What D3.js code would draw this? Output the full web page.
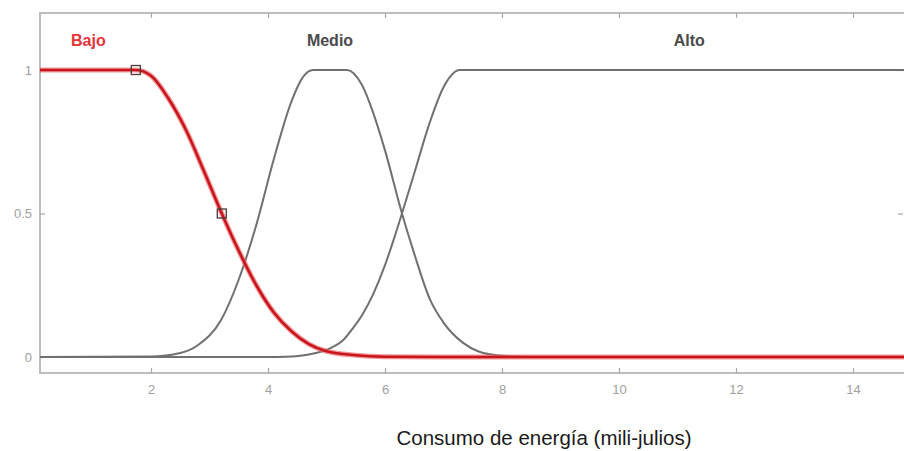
<!DOCTYPE html>
<html><head><meta charset="utf-8">
<script src="https://cdn.jsdelivr.net/npm/d3@7"></script>
<style>body{margin:0;background:#fff}svg{display:block}</style>
</head><body>
<svg id="c" width="904" height="451"></svg>
<script>
// ---- data ----
const xTicks = [2, 4, 6, 8, 10, 12, 14];
const yTicks = [0, 0.5, 1];
const yTickLabels = ["0", "0.5", "1"];
const mfNames = ["Bajo", "Medio", "Alto"];
const mfLabelX = [0.93, 5.06, 11.2];
const bajoX = [0.1, 1.74, 2.0, 2.3, 2.6, 2.9, 3.21, 3.5, 3.8, 4.1, 4.4, 4.7, 5.0, 5.5, 6.0, 7.0, 15];
const bajoY = [1, 1, 0.98, 0.9, 0.79, 0.65, 0.5, 0.37, 0.25, 0.155, 0.09, 0.045, 0.02, 0.006, 0.001, 0, 0];
const medioX = [0.1, 2.0, 2.5, 2.8, 3.2, 3.5, 3.8, 4.1, 4.4, 4.6, 4.77, 5.35, 5.6, 5.8, 6.0, 6.29, 6.5, 6.77, 7.0, 7.33, 7.6, 8.0, 8.5, 15];
const medioY = [0, 0.002, 0.014, 0.041, 0.13, 0.27, 0.46, 0.69, 0.89, 0.976, 1, 1, 0.95, 0.85, 0.72, 0.5, 0.36, 0.2, 0.12, 0.05, 0.019, 0.004, 0, 0];
const altoX = [0.1, 4.0, 4.3, 4.7, 5.06, 5.3, 5.45, 5.62, 5.8, 6.0, 6.15, 6.29, 6.5, 6.77, 7.0, 7.28, 15];
const altoY = [0, 0, 0.001, 0.009, 0.03, 0.062, 0.1, 0.15, 0.22, 0.32, 0.41, 0.5, 0.64, 0.82, 0.94, 1, 1];
const markerX = [1.74, 3.21];
const markerY = [1, 0.5];
const xLabel = "Consumo de energía (mili-julios)";

// ---- drawing ----
const svg = d3.select("#c");
const L = 40, T = 13, R = 907, B = 373;
const x = d3.scaleLinear().domain([0, 15]).range([34, 34 + 58.5 * 15]);
const y = d3.scaleLinear().domain([0, 1]).range([357, 70]);
const FONT = "Liberation Sans, Arial, sans-serif";

svg.append("rect").attr("width", 904).attr("height", 451).attr("fill", "#fff");

svg.append("defs").append("clipPath").attr("id", "clip")
  .append("rect").attr("x", L).attr("y", T).attr("width", R - L).attr("height", B - T);

// frame
svg.append("rect").attr("x", L).attr("y", T).attr("width", R - L).attr("height", B - T)
  .attr("fill", "none").attr("stroke", "#bdbdbd").attr("stroke-width", 2);

const tickStyle = g => {
  g.select(".domain").remove();
  g.selectAll(".tick line").attr("stroke", "#a8a8a8").attr("stroke-width", 1.2);
  g.selectAll(".tick text").attr("fill", "#a0a0a0").attr("font-family", FONT).attr("font-size", 13);
};
svg.append("g").attr("transform", `translate(0,${B})`)
  .call(d3.axisBottom(x).tickValues(xTicks).tickSize(-5).tickPadding(12).tickFormat(d3.format("d")))
  .call(tickStyle);
svg.append("g").attr("transform", `translate(0,${T})`)
  .call(d3.axisTop(x).tickValues(xTicks).tickSize(-5).tickFormat(""))
  .call(tickStyle);
svg.append("g").attr("transform", `translate(${L},0)`)
  .call(d3.axisLeft(y).tickValues(yTicks).tickSize(-5).tickPadding(8).tickFormat((d, i) => yTickLabels[i]))
  .call(tickStyle);
svg.append("g").attr("transform", `translate(${903},0)`)
  .call(d3.axisRight(y).tickValues(yTicks).tickSize(-5).tickFormat(""))
  .call(tickStyle);

const line = d3.line().x(d => x(d[0])).y(d => y(d[1])).curve(d3.curveMonotoneX);
const plot = svg.append("g").attr("clip-path", "url(#clip)");

const grayCol = "#707070";
plot.append("path").datum(d3.zip(medioX, medioY)).attr("d", line)
  .attr("fill", "none").attr("stroke", grayCol).attr("stroke-width", 2);
plot.append("path").datum(d3.zip(altoX, altoY)).attr("d", line)
  .attr("fill", "none").attr("stroke", grayCol).attr("stroke-width", 2);

// red halo + core
plot.append("path").datum(d3.zip(bajoX, bajoY)).attr("d", line)
  .attr("fill", "none").attr("stroke", "#f06a6a").attr("stroke-width", 5).attr("stroke-opacity", 0.7);
plot.append("path").datum(d3.zip(bajoX, bajoY)).attr("d", line)
  .attr("fill", "none").attr("stroke", "#c8161e").attr("stroke-width", 2.6);

// markers
plot.selectAll("rect.m").data(d3.zip(markerX, markerY)).enter().append("rect")
  .attr("class", "m")
  .attr("x", d => x(d[0]) - 4.5).attr("y", d => y(d[1]) - 4.5)
  .attr("width", 9).attr("height", 9)
  .attr("fill", "none").attr("stroke", "#4a3a3a").attr("stroke-width", 1.3);

// mf labels
const labelCols = ["#e8323a", "#4a4a4a", "#4a4a4a"];
svg.selectAll("text.mf").data(mfNames).enter().append("text")
  .attr("class", "mf")
  .attr("x", (d, i) => x(mfLabelX[i])).attr("y", 46)
  .attr("text-anchor", "middle")
  .attr("font-family", FONT).attr("font-size", 16)
  .attr("font-weight", "bold")
  .attr("fill", (d, i) => labelCols[i])
  .text(d => d);

// x label
svg.append("text").attr("x", 544).attr("y", 445).attr("text-anchor", "middle")
  .attr("font-family", FONT).attr("font-size", 20.5)
  .attr("fill", "#1a1a1a").text(xLabel);
</script>
</body></html>
